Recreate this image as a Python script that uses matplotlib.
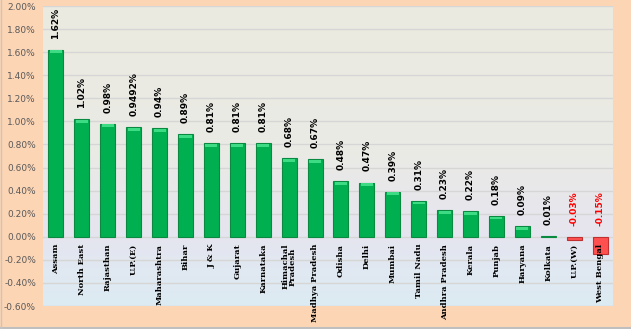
import matplotlib
matplotlib.use("Agg")
import matplotlib.pyplot as plt
import numpy as np
from matplotlib.colors import LinearSegmentedColormap
from matplotlib.ticker import FuncFormatter
from matplotlib.lines import Line2D

categories = ["Assam", "North East", "Rajasthan", "U.P.(E)", "Maharashtra", "Bihar", "J & K",
              "Gujarat", "Karnataka", "Himachal\nPradesh", "Madhya Pradesh", "Odisha", "Delhi",
              "Mumbai", "Tamil Nadu", "Andhra Pradesh", "Kerala", "Punjab", "Haryana", "Kolkata",
              "U.P.(W)", "West Bengal"]
values = [1.62, 1.02, 0.98, 0.9492, 0.94, 0.89, 0.81, 0.81, 0.81, 0.68, 0.67, 0.48, 0.47,
          0.39, 0.31, 0.23, 0.22, 0.18, 0.09, 0.01, -0.03, -0.15]
value_labels = ["1.62%", "1.02%", "0.98%", "0.9492%", "0.94%", "0.89%", "0.81%", "0.81%", "0.81%",
                "0.68%", "0.67%", "0.48%", "0.47%", "0.39%", "0.31%", "0.23%", "0.22%", "0.18%",
                "0.09%", "0.01%", "-0.03%", "-0.15%"]

fig = plt.figure(figsize=(6.31, 3.29), dpi=100)
fig.patch.set_facecolor("#FCD5B5")
ax = fig.add_axes([43/631, 1 - 306/329, 570/631, 300/329])

ymin, ymax = -0.6, 2.0
n = len(categories)
x = np.arange(n)
ax.set_xlim(-0.5, n - 0.5)
ax.set_ylim(ymin, ymax)

# gradient background
cmap = LinearSegmentedColormap.from_list("bg", [(0, "#DCEBF3"), (0.25, "#E6E5EF"), (0.5, "#EAEAE6"), (1, "#ECEBE0")])
grad = np.linspace(0, 1, 256).reshape(-1, 1)
ax.imshow(grad, aspect="auto", cmap=cmap, origin="lower",
          extent=[-0.5, n - 0.5, ymin, ymax], zorder=0)

ax.set_yticks(np.arange(-0.6, 2.01, 0.2))
ax.yaxis.set_major_formatter(FuncFormatter(lambda v, p: f"{v:.2f}%"))
ax.grid(axis="y", color="#D6D6D6", linewidth=1, zorder=1)
ax.set_xticks([])
for s in ax.spines.values():
    s.set_visible(False)
ax.tick_params(axis="y", length=0, labelsize=6.5, labelcolor="#595959", pad=5)

colors = ["#00B050" if v >= 0 else "#FF5050" for v in values]
edges = ["#0A8A40" if v >= 0 else "#C03030" for v in values]
w = 0.58
ax.bar(x, values, width=w, color=colors, edgecolor=edges, linewidth=0.8, zorder=3)
# top highlight
for xi, v in zip(x, values):
    if v > 0.02:
        ax.bar(xi, 0.025, bottom=v - 0.03, width=w * 0.8, color="#3EDB85", linewidth=0, zorder=4)

for xi, v, lab in zip(x, values, value_labels):
    top = max(v, 0)
    ax.annotate(lab, (xi, top), xytext=(0, 8), textcoords="offset points",
                rotation=90, ha="center", va="bottom", fontsize=6.5, fontweight="bold",
                color="#FF0000" if v < 0 else "#000000", zorder=5)

for xi, c in zip(x, categories):
    ax.annotate(c, (xi, 0), xytext=(0, -5), textcoords="offset points", rotation=90,
                ha="center", va="top", fontsize=6, fontweight="bold", family="DejaVu Serif",
                linespacing=0.9, zorder=5, annotation_clip=False)

fig.lines.append(Line2D([0, 1], [0.003, 0.003], transform=fig.transFigure, color="#BFBFBF", linewidth=1.5))
fig.lines.append(Line2D([0.001, 0.001], [0, 1], transform=fig.transFigure, color="#D0C4B8", linewidth=1))

fig.savefig("out.png", dpi=100, facecolor=fig.get_facecolor())
